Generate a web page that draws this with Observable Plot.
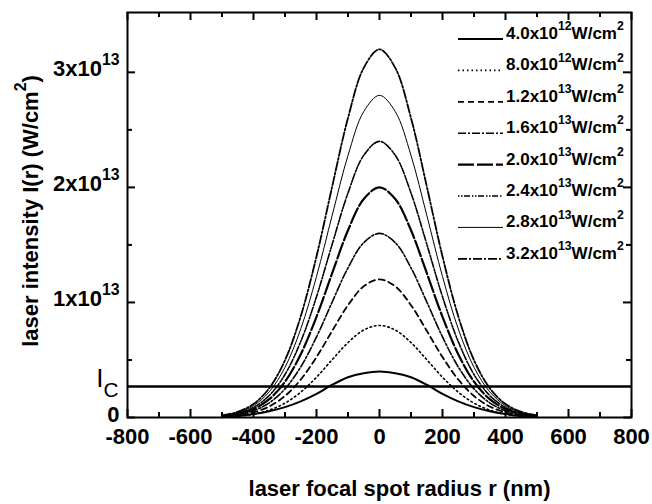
<!DOCTYPE html>
<html><head><meta charset="utf-8">
<script src="https://cdn.jsdelivr.net/npm/d3@7"></script>
<script src="https://cdn.jsdelivr.net/npm/@observablehq/plot@0.6"></script>
<style>
html,body{margin:0;padding:0;background:#fff;}
</style>
</head><body>
<div id="chart"></div>
<script>
// radius r (nm)
const radius = [-500,-450,-400,-350,-300,-250,-200,-150,-100,-50,0,50,100,150,200,250,300,350,400,450,500];
// laser intensity I(r), in units of 10^12 W/cm^2
const I_4_0e12 = [0.03,0.12,0.30,0.55,0.90,1.40,2.05,2.85,3.50,3.85,4.00,3.85,3.50,2.85,2.05,1.40,0.90,0.55,0.30,0.12,0.03];
const I_8_0e12 = [0.05,0.12,0.29,0.64,1.25,2.20,3.50,5.03,6.51,7.60,8.00,7.60,6.51,5.03,3.50,2.20,1.25,0.64,0.29,0.12,0.05];
const I_1_2e13 = [0.07,0.18,0.44,0.96,1.87,3.30,5.25,7.54,9.76,11.40,12.00,11.40,9.76,7.54,5.25,3.30,1.87,0.96,0.44,0.18,0.07];
const I_1_6e13 = [0.09,0.24,0.59,1.27,2.49,4.40,7.00,10.05,13.01,15.20,16.00,15.20,13.01,10.05,7.00,4.40,2.49,1.27,0.59,0.24,0.09];
const I_2_0e13 = [0.11,0.30,0.73,1.59,3.11,5.50,8.75,12.56,16.27,18.99,20.00,18.99,16.27,12.56,8.75,5.50,3.11,1.59,0.73,0.30,0.11];
const I_2_4e13 = [0.14,0.36,0.88,1.91,3.74,6.60,10.50,15.08,19.52,22.79,24.00,22.79,19.52,15.08,10.50,6.60,3.74,1.91,0.88,0.36,0.14];
const I_2_8e13 = [0.16,0.43,1.03,2.23,4.36,7.70,12.25,17.59,22.78,26.59,28.00,26.59,22.78,17.59,12.25,7.70,4.36,2.23,1.03,0.43,0.16];
const I_3_2e13 = [0.18,0.49,1.17,2.55,4.98,8.80,14.00,20.10,26.03,30.39,32.00,30.39,26.03,20.10,14.00,8.80,4.98,2.55,1.17,0.49,0.18];
// threshold intensity I_C (10^12 W/cm^2)
const thresholdIc = [2.7];

const seriesLabels = ["4.0x10^{12}W/cm^{2}","8.0x10^{12}W/cm^{2}","1.2x10^{13}W/cm^{2}","1.6x10^{13}W/cm^{2}",
                      "2.0x10^{13}W/cm^{2}","2.4x10^{13}W/cm^{2}","2.8x10^{13}W/cm^{2}","3.2x10^{13}W/cm^{2}"];
const seriesValues = [I_4_0e12,I_8_0e12,I_1_2e13,I_1_6e13,I_2_0e13,I_2_4e13,I_2_8e13,I_3_2e13];

const xTicks = [-800,-600,-400,-200,0,200,400,600,800];
const xMinorTicks = [-700,-500,-300,-100,100,300,500,700];
const yTicks = [0,10,20,30];
const yMinorTicks = [5,15,25];
const yTickLabels = ["0","1x10^{13}","2x10^{13}","3x10^{13}"];
const xTitle = "laser focal spot radius r (nm)";
const yTitle = "laser intensity I(r) (W/cm^{2})";
const icLabel = "I_{C}";

// line styles per series
const styles = [
  {w:2.0, dash:null},
  {w:1.6, dash:"1.5,3"},
  {w:1.8, dash:"6,4"},
  {w:1.6, dash:"8,2,2,2"},
  {w:2.2, dash:"16,3"},
  {w:1.6, dash:"1.5,1.5,1.5,1.5,6,2"},
  {w:1.0, dash:null},
  {w:1.8, dash:"9,2,2,2"}
];

const W = 652, H = 504, mL = 127, mR = 21, mT = 12, mB = 87;
const fw = W - mL - mR, fh = H - mT - mB;

const lineMarks = seriesValues.map((vals, i) =>
  Plot.line(radius.map((r, j) => ({r, I: vals[j]})), {
    x: "r", y: "I", stroke: "black", strokeWidth: styles[i].w,
    strokeDasharray: styles[i].dash || undefined, curve: "catmull-rom"
  })
);

const plot = Plot.plot({
  width: W, height: H,
  marginLeft: mL, marginRight: mR, marginTop: mT, marginBottom: mB,
  x: {domain: [-800, 800]},
  y: {domain: [0, 35.2]},
  style: {fontFamily: "'Liberation Sans', Arial, sans-serif", fontWeight: "bold", background: "white", color: "black"},
  marks: [
    ...lineMarks,
    Plot.ruleY(thresholdIc, {stroke: "black", strokeWidth: 2.6}),
    Plot.tickX(xTicks, {x: d => d, insetTop: fh - 8, strokeWidth: 2}),
    Plot.tickX(xTicks, {x: d => d, insetBottom: fh - 8, strokeWidth: 2}),
    Plot.tickX(xMinorTicks, {x: d => d, insetTop: fh - 5, strokeWidth: 2}),
    Plot.tickX(xMinorTicks, {x: d => d, insetBottom: fh - 5, strokeWidth: 2}),
    Plot.tickY(yTicks, {y: d => d, insetRight: fw - 8, strokeWidth: 2}),
    Plot.tickY(yTicks, {y: d => d, insetLeft: fw - 8, strokeWidth: 2}),
    Plot.tickY(yMinorTicks, {y: d => d, insetRight: fw - 5, strokeWidth: 2}),
    Plot.tickY(yMinorTicks, {y: d => d, insetLeft: fw - 5, strokeWidth: 2}),
    Plot.frame({stroke: "black", strokeWidth: 2}),
    Plot.axisX({ticks: xTicks, tickSize: 0, tickPadding: 11, fontSize: 22, label: null, tickFormat: d => String(d)}),
    Plot.axisY({ticks: yTicks, tickSize: 0, tickPadding: 8, fontSize: 22, label: null, dy: -3, tickFormat: d => yTickLabels[yTicks.indexOf(d)]}),
    Plot.text(thresholdIc, {y: d => d, x: -800, text: () => icLabel, textAnchor: "end", dx: -9, dy: -8, fontSize: 26, fontWeight: "normal"}),
    Plot.text([xTitle], {frameAnchor: "bottom", text: d => d, textAnchor: "middle", dx: 20, dy: 78, fontSize: 22}),
    Plot.text([yTitle], {frameAnchor: "left", text: d => d, textAnchor: "middle", rotate: -90, dx: -97, dy: -4, fontSize: 22})
  ]
});

document.getElementById("chart").appendChild(plot);
const svg = d3.select(plot);

// legend (layout in pixels, top-right inside the frame)
const leg = svg.append("g").attr("font-size", 17).attr("font-weight", "bold").attr("text-anchor", "start");
seriesLabels.forEach((lab, i) => {
  const y = 39 + 31.4 * i;
  leg.append("line").attr("x1", 458).attr("x2", 503).attr("y1", y).attr("y2", y)
    .attr("stroke", "black").attr("stroke-width", styles[i].w)
    .attr("stroke-dasharray", styles[i].dash);
  leg.append("text").attr("x", 506).attr("y", y).attr("dy", "0.36em").attr("text-anchor", "start").text(lab);
});

// turn ^{..} and _{..} into real super/subscripts
svg.selectAll("text").each(function() {
  const t = this.textContent;
  if (!/[\^_]\{/.test(t) || this.querySelector("tspan")) return;
  const fs = parseFloat(getComputedStyle(this).fontSize) || 16;
  const sel = d3.select(this);
  sel.text(null);
  const re = /([\^_])\{([^}]*)\}/g;
  let last = 0, m, shift = 0;
  while ((m = re.exec(t)) !== null) {
    if (m.index > last) {
      sel.append("tspan").attr("dy", -shift).text(t.slice(last, m.index));
      shift = 0;
    }
    const s = m[1] === "^" ? -0.52 * fs : 0.38 * fs;
    const size = m[1] === "^" ? 0.72 * fs : 0.8 * fs;
    sel.append("tspan").attr("dy", s - shift).attr("font-size", size).text(m[2]);
    shift = s;
    last = re.lastIndex;
  }
  if (last < t.length) sel.append("tspan").attr("dy", -shift).text(t.slice(last));
});
</script>
</body></html>
